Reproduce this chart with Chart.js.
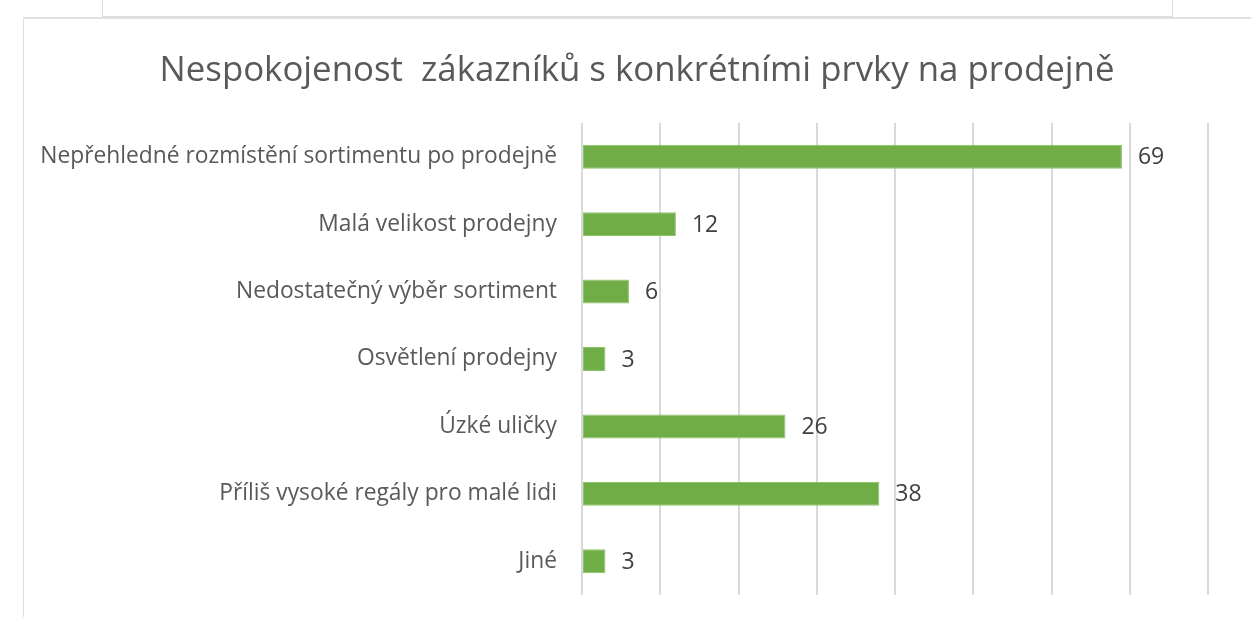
<!DOCTYPE html>
<html>
<head>
<meta charset="utf-8">
<script src="https://cdn.jsdelivr.net/npm/chart.js@4/dist/chart.umd.min.js"></script>
<style>
  html, body { margin: 0; padding: 0; background: #fff; }
  #wrap { position: relative; width: 1258px; height: 617px; overflow: hidden; }
  #tab { position: absolute; left: 102px; top: -2px; width: 1069px; height: 18px; border: 1px solid #dcdcdc; border-top: none; background: #fff; }
  #frame { position: absolute; left: 23px; top: 17px; width: 1227px; height: 610px; border-left: 1px solid #e0e0e0; border-top: 2px solid #e0e0e0; }
  #title { position: absolute; left: 0; top: 47px; width: 1274px; text-align: center; white-space: pre;
           font-family: 'Open Sans', 'Noto Sans', sans-serif; font-size: 34.8px; line-height: 42px; color: #595959; }
  canvas { position: absolute; left: 0; top: 0; }
</style>
</head>
<body>
<div id="wrap">
  <div id="tab"></div>
  <div id="frame"></div>
  <canvas id="chart_dissatisfaction" width="1258" height="617"></canvas>
  <div id="title"></div>
</div>
<script>
var categories = [
  'Nepřehledné rozmístění sortimentu po prodejně',
  'Malá velikost prodejny',
  'Nedostatečný výběr sortiment',
  'Osvětlení prodejny',
  'Úzké uličky',
  'Příliš vysoké regály pro malé lidi',
  'Jiné'
];
var counts = [69, 12, 6, 3, 26, 38, 3];
var chartTitle = 'Nespokojenost  zákazníků s konkrétními prvky na prodejně';

var fontFamily = "'Open Sans', 'Noto Sans', sans-serif";

document.getElementById('title').textContent = chartTitle;

var chart_dissatisfaction = new Chart(document.getElementById('chart_dissatisfaction'), {
    type: 'bar',
    data: {
        labels: categories,
        datasets: [
            {
                label: 'Počet',
                data: counts,
                backgroundColor: '#70AD47',
                borderColor: '#8CC46A',
                borderWidth: 1,
                borderSkipped: false,
                categoryPercentage: 1,
                barPercentage: 0.355
            }
        ]
    },
    options: {
        indexAxis: 'y',
        animation: false,
        responsive: false,
        layout: {
            padding: { left: 0, right: 50, top: 123, bottom: 22 }
        },
        plugins: {
            legend: { display: false },
            tooltip: { enabled: false },
            title: { display: false }
        },
        scales: {
            x: {
                min: 0,
                max: 80,
                ticks: { display: false, stepSize: 10 },
                grid: { color: '#d9d9d9', lineWidth: 2, drawTicks: false },
                border: { display: false }
            },
            y: {
                afterFit: function(scale) {
                    scale.width = 582;
                    scale.paddingTop = 0;
                    scale.paddingBottom = 0;
                },
                ticks: {
                    color: '#595959',
                    padding: 25,
                    font: { family: fontFamily, size: 22.8 }
                },
                grid: { display: false, drawTicks: false },
                border: { display: false }
            }
        }
    },
    plugins: [{
        id: 'valueLabels',
        afterDatasetsDraw: function(chart) {
            var ctx = chart.ctx;
            var meta = chart.getDatasetMeta(0);
            ctx.save();
            ctx.fillStyle = '#404040';
            ctx.font = '23px ' + fontFamily;
            ctx.textAlign = 'left';
            ctx.textBaseline = 'middle';
            meta.data.forEach(function(bar, i) {
                ctx.fillText(String(counts[i]), bar.x + 16, bar.y + 1);
            });
            ctx.restore();
        }
    }]
});
</script>
</body>
</html>
